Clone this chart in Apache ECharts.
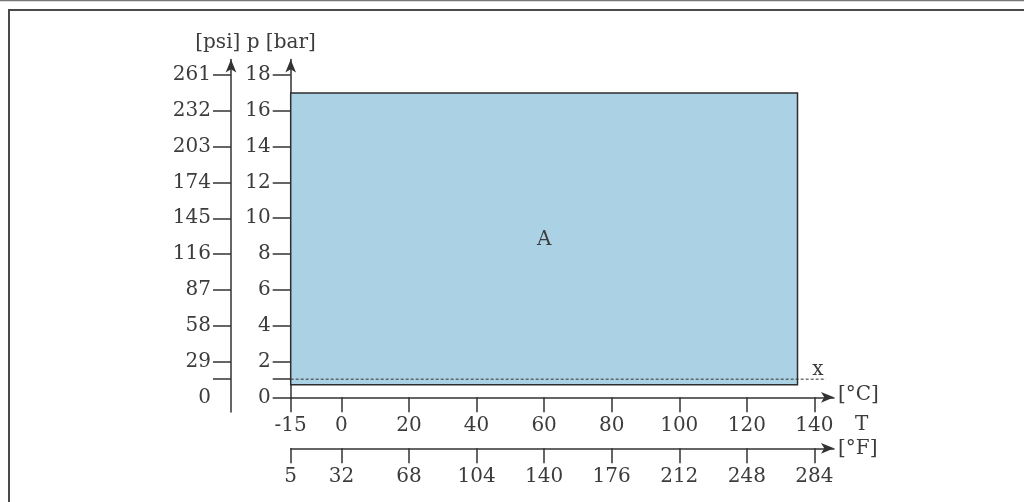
<!DOCTYPE html>
<html>
<head>
<meta charset="utf-8">
<script src="https://cdn.jsdelivr.net/npm/echarts@6/dist/echarts.min.js"></script>
<style>
html,body{margin:0;padding:0;background:#fff;}
#chart{width:1024px;height:502px;}
</style>
</head>
<body>
<div id="chart"></div>
<script>
// ---- data ----
const tempCTicks = [-15, 0, 20, 40, 60, 80, 100, 120, 140];
const tempFTicks = [5, 32, 68, 104, 140, 176, 212, 248, 284];
const barLabels = [0, 2, 4, 6, 8, 10, 12, 14, 16, 18];
const barTicks = [0, 1.013, 2, 4, 6, 8, 10, 12, 14, 16, 18];
const psiLabels = [0, 29, 58, 87, 116, 145, 174, 203, 232, 261];
const psiTicks = [14.7, 29, 58, 87, 116, 145, 174, 203, 232, 261];
// operating area A: [T min °C, p min bar, T max °C, p max bar]
const areaA = [[-15, 0.7, 135, 17]];
// atmospheric pressure line x: [T start, T end, p bar]
const atmLine = [[-15, 143.4, 1.013]];

const FONT = 'DejaVu Serif';
const TXT = '#3c3c3c';
const LINE = '#333333';

const cMin = -15, cMax = 145.8;
const fMin = cMin * 1.8 + 32, fMax = cMax * 1.8 + 32;

const chart = echarts.init(document.getElementById('chart'));

function axLine() {
  return {show: true, onZero: false, symbol: ['none', 'arrow'], symbolSize: [8, 13], lineStyle: {color: LINE, width: 1.5}};
}
function axTick(len, vals) {
  return {show: true, length: len, customValues: vals, lineStyle: {color: LINE, width: 1.5}};
}
function axLabel(margin, vals) {
  return {color: TXT, fontFamily: FONT, fontSize: 20, margin: margin, customValues: vals};
}

chart.setOption({
  animation: false,
  backgroundColor: '#fff',
  grid: [
    {left: 290.7, top: 59.5, width: 543.3, height: 337.8},
    {left: 231, top: 59.5, width: 1, height: 352.5}
  ],
  xAxis: [
    {type: 'value', gridIndex: 0, position: 'bottom', min: cMin, max: cMax, splitLine: {show: false},
      axisLine: axLine(), axisTick: axTick(15, tempCTicks), axisLabel: axLabel(18, tempCTicks)},
    {type: 'value', gridIndex: 0, position: 'bottom', offset: 51, min: fMin, max: fMax, splitLine: {show: false},
      axisLine: axLine(), axisTick: axTick(15, tempFTicks), axisLabel: axLabel(18, tempFTicks)},
    {type: 'value', gridIndex: 1, show: false, min: 0, max: 1}
  ],
  yAxis: [
    {type: 'value', gridIndex: 0, position: 'left', min: 0, max: 18.865, splitLine: {show: false},
      axisLine: axLine(), axisTick: axTick(18, barTicks), axisLabel: axLabel(20, barLabels)},
    {type: 'value', gridIndex: 1, position: 'left', min: -11.9, max: 273.6, splitLine: {show: false},
      axisLine: axLine(), axisTick: axTick(18, psiTicks), axisLabel: axLabel(20, psiLabels)}
  ],
  graphic: [
    {type: 'line', shape: {x1: 0, y1: 0.5, x2: 1024, y2: 0.5}, style: {stroke: '#777', lineWidth: 1.5}, silent: true},
    {type: 'line', shape: {x1: 8, y1: 10, x2: 1024, y2: 10}, style: {stroke: '#4a4a4a', lineWidth: 2}, silent: true},
    {type: 'line', shape: {x1: 9, y1: 10, x2: 9, y2: 502}, style: {stroke: '#4a4a4a', lineWidth: 2}, silent: true},
    {type: 'text', x: 255.5, y: 43, style: {text: '[psi] p [bar]', font: '20px ' + FONT, fill: TXT, align: 'center', verticalAlign: 'middle'}},
    {type: 'text', x: 838, y: 395, style: {text: '[°C]', font: '20px ' + FONT, fill: TXT, align: 'left', verticalAlign: 'middle'}},
    {type: 'text', x: 855, y: 425, style: {text: 'T', font: '20px ' + FONT, fill: TXT, align: 'left', verticalAlign: 'middle'}},
    {type: 'text', x: 838, y: 449, style: {text: '[°F]', font: '20px ' + FONT, fill: TXT, align: 'left', verticalAlign: 'middle'}}
  ],
  series: [
    {
      type: 'custom', xAxisIndex: 0, yAxisIndex: 0, z: 1,
      encode: {x: [0, 2], y: [1, 3]},
      data: areaA,
      renderItem: function (params, api) {
        const p0 = api.coord([api.value(0), api.value(3)]);
        const p1 = api.coord([api.value(2), api.value(1)]);
        return {type: 'group', children: [
          {type: 'rect', shape: {x: p0[0], y: p0[1], width: p1[0] - p0[0], height: p1[1] - p0[1]},
            style: {fill: '#abd2e4', stroke: '#2d2d2d', lineWidth: 1.5}},
          {type: 'text', style: {text: 'A', x: (p0[0] + p1[0]) / 2, y: (p0[1] + p1[1]) / 2 + 1,
            align: 'center', verticalAlign: 'middle', font: '20px ' + FONT, fill: TXT}}
        ]};
      }
    },
    {
      type: 'custom', xAxisIndex: 0, yAxisIndex: 0, z: 2,
      encode: {x: [0, 1], y: 2},
      data: atmLine,
      renderItem: function (params, api) {
        const a = api.coord([api.value(0), api.value(2)]);
        const b = api.coord([api.value(1), api.value(2)]);
        return {type: 'group', children: [
          {type: 'line', shape: {x1: a[0], y1: a[1], x2: b[0], y2: b[1]},
            style: {stroke: '#333', lineWidth: 1, lineDash: [3, 2]}},
          {type: 'text', style: {text: 'x', x: b[0] - 8, y: b[1] + 1, align: 'center', verticalAlign: 'bottom',
            font: '20px ' + FONT, fill: TXT}}
        ]};
      }
    }
  ]
});
</script>
</body>
</html>
